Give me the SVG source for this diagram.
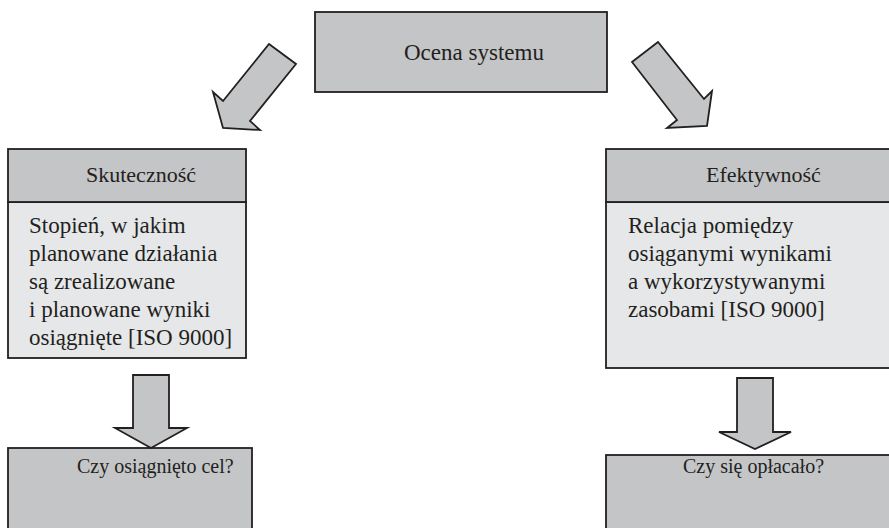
<svg xmlns="http://www.w3.org/2000/svg" width="889" height="528" viewBox="0 0 889 528">
<style>
.dark{fill:#c4c5c7;stroke:#231f20;stroke-width:1.8}
.light{fill:#e6e7e8;stroke:#231f20;stroke-width:1.8}
.arr{fill:#c4c5c7;stroke:#231f20;stroke-width:1.8;stroke-linejoin:miter}
text{font-family:"Liberation Serif","Times New Roman",serif;font-size:23px;fill:#231f20}
.hd{font-size:22px}
.sm{font-size:20px}
</style>
<rect width="889" height="528" fill="#fff"/>
<g id="ocena">
<rect class="dark" x="315" y="12" width="292" height="80"/>
<text x="404" y="60">Ocena systemu</text>
</g>
<g id="skutecznosc">
<rect class="light" x="8" y="202" width="238" height="156"/>
<rect class="dark" x="8" y="149" width="238" height="53"/>
<text class="hd" x="86" y="182">Skuteczność</text>
<text x="29" y="233">Stopień, w jakim</text>
<text x="29" y="261">planowane działania</text>
<text x="29" y="289">są zrealizowane</text>
<text x="29" y="317">i planowane wyniki</text>
<text x="29" y="345">osiągnięte [ISO 9000]</text>
</g>
<g id="efektywnosc">
<rect class="light" x="606" y="202" width="290" height="166"/>
<rect class="dark" x="606" y="149" width="290" height="53"/>
<text class="hd" x="706" y="182">Efektywność</text>
<text x="628" y="233">Relacja pomiędzy</text>
<text x="628" y="261">osiąganymi wynikami</text>
<text x="628" y="289">a wykorzystywanymi</text>
<text x="628" y="317">zasobami [ISO 9000]</text>
</g>
<g id="cel">
<rect class="dark" x="8" y="448" width="244" height="100"/>
<text class="sm" x="77" y="473">Czy osiągnięto cel?</text>
</g>
<g id="oplacalo">
<rect class="dark" x="606" y="455" width="290" height="100"/>
<text class="sm" x="683" y="473">Czy się opłacało?</text>
</g>
<g id="connectors">
<polygon class="arr" points="269,44 296,64 250,121 260,130 223,128 213,92 223,101"/>
<polygon class="arr" points="632,62 658,42 704,99 712,91 707,126 667,128 677,120"/>
<polygon class="arr" points="133,375 169,375 169,428 187,428 151,448 115,428 133,428"/>
<polygon class="arr" points="737,378 773,378 773,432 791,432 755,449 719,432 737,432"/>
</g>
</svg>
